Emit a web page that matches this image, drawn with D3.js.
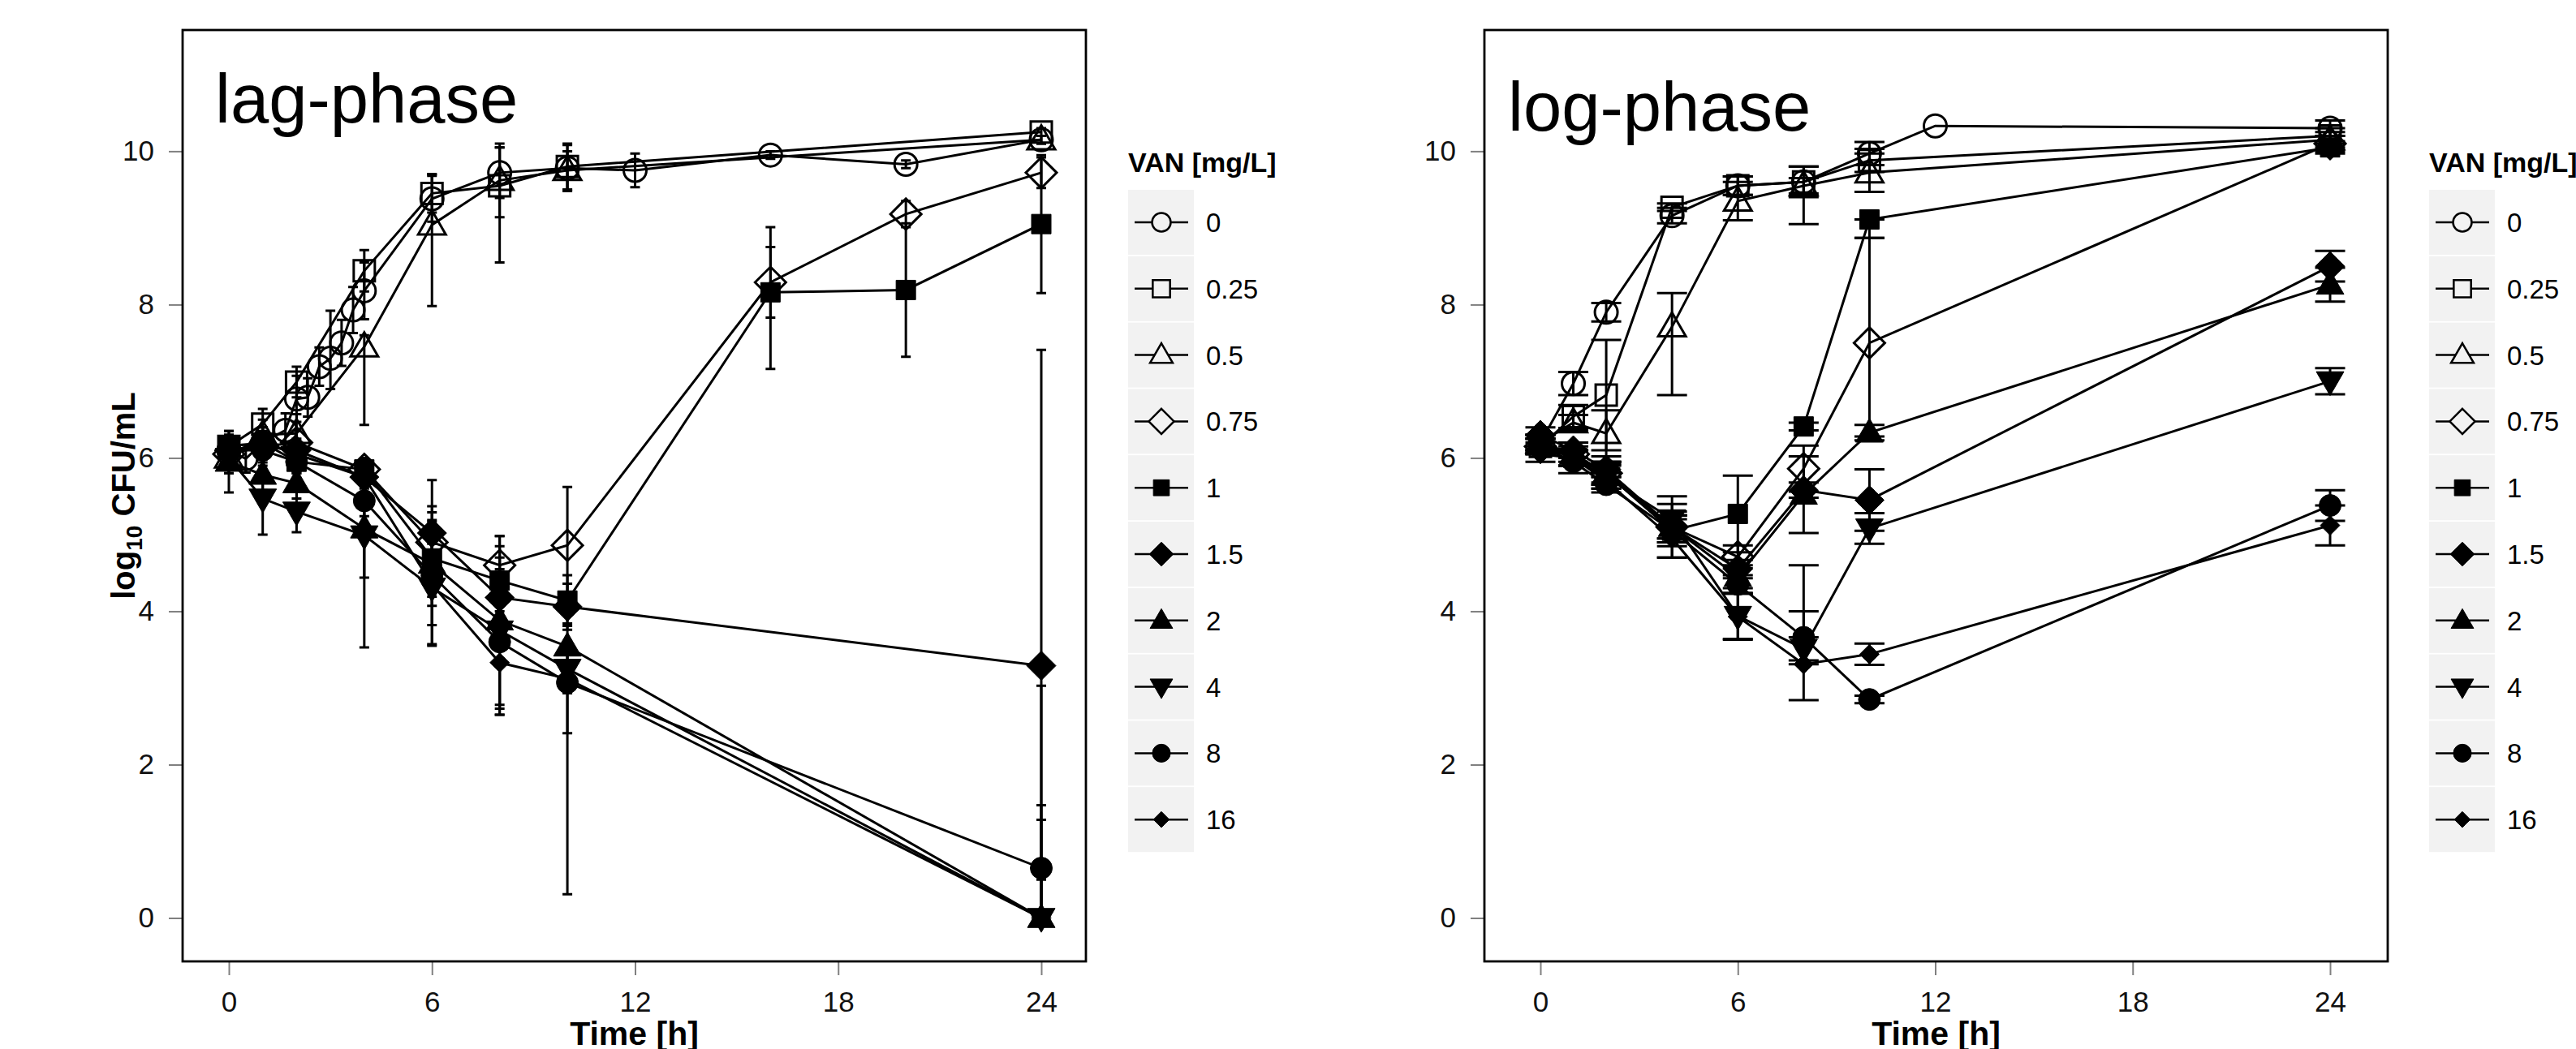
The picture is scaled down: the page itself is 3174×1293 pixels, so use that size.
<!DOCTYPE html>
<html>
<head>
<meta charset="utf-8">
<title>VAN time-kill curves</title>
<script src="https://cdn.jsdelivr.net/npm/d3@7"></script>
<style>
body { margin: 0; background: #fff; }
svg { display: block; font-family: "Liberation Sans", Arial, Helvetica, sans-serif; }
</style>
</head>
<body>
<div id="chart"></div>
<script>
// VAN concentrations [mg/L], legend order
var concentrations = ["0", "0.25", "0.5", "0.75", "1", "1.5", "2", "4", "8", "16"];

var xTicks = [0, 6, 12, 18, 24];
var yTicks = [0, 2, 4, 6, 8, 10];

// one list per concentration: [time h, mean log10 CFU/mL, sd below, sd above (if different)]
var lagSeries = [
	[[0, 6.1, 0.15], [0.5, 5.99, 0.18], [1, 6.2, 0.2], [1.67, 6.36, 0.22], [2, 6.77, 0.3], [2.33, 6.79, 0.25], [2.67, 7.19, 0.25], [3, 7.30, 0.4, 0.62], [3.33, 7.50, 0.3], [3.67, 7.93, 0.3], [4, 8.18, 0.37], [6, 9.38, 0.3], [8, 9.72, 0.33], [10, 9.78, 0.3], [12, 9.75, 0.22], [16, 9.95, 0.05], [20, 9.83, 0.05], [24, 10.15, 0.05]],
	[[0, 6.15, 0.15], [1, 6.44, 0.2], [2, 6.99, 0.2], [4, 8.44, 0.27], [6, 9.45, 0.25], [8, 9.55, 1.0, 0.5], [10, 9.80, 0.3], [24, 10.25, 0.05]],
	[[0, 6.0, 0.2], [1, 6.3, 0.2], [2, 6.32, 0.25], [4, 7.45, 1.02, 0.15], [6, 9.04, 1.06, 0.66], [8, 9.62, 0.48], [10, 9.75, 0.25], [24, 10.15, 0.05]],
	[[0, 6.05, 0.15], [1, 6.15, 0.15], [2, 6.2, 0.15], [4, 5.85, 0.12], [6, 4.90, 0.39], [8, 4.60, 0.38], [10, 4.86, 0.76], [16, 8.29, 0.46], [20, 9.18, 0.17], [24, 9.72, 0.2]],
	[[0, 6.15, 0.2], [1, 6.2, 0.2], [2, 5.95, 0.15], [4, 5.85, 0.15], [6, 4.69, 0.5], [8, 4.40, 0.3], [10, 4.14, 0.33], [16, 8.16, 1.0, 0.85], [20, 8.19, 0.87], [24, 9.05, 0.9]],
	[[0, 6.1, 0.15], [1, 6.15, 0.15], [2, 6.1, 0.15], [4, 5.75, 0.15], [6, 5.02, 0.69], [8, 4.18, 0.18], [10, 4.06, 0.3], [24, 3.29, 4.12]],
	[[0, 5.95, 0.4], [1, 5.78, 0.2], [2, 5.67, 0.2], [4, 5.08, 1.55, 0.3], [6, 4.62, 0.55], [8, 3.88, 1.1], [10, 3.54, 0.3], [24, 0, 1.47]],
	[[0, 6.0, 0.2], [1, 5.47, 0.47], [2, 5.30, 0.27], [4, 4.99, 0.55], [6, 4.31, 0.76], [8, 3.75, 1.1], [10, 3.25, 0.84, 0.3], [24, 0, 1.28]],
	[[0, 6.1, 0.2], [1, 6.1, 0.2], [2, 5.95, 0.15], [4, 5.44, 0.2], [6, 4.47, 0.9], [8, 3.60, 0.95], [10, 3.07, 2.76, 0.4], [24, 0.65, 2.38]],
	[[0, 6.05, 0.15], [1, 6.2, 0.15], [2, 6.05, 0.15], [4, 5.75, 0.2], [6, 4.35, 0.53], [8, 3.33, 0.6], [10, 3.12, 0.19], [24, 0, 0.5]]
];

var logSeries = [
	[[0, 6.2, 0.1], [1, 6.97, 0.15], [2, 7.9, 0.12], [4, 9.16, 0.1], [6, 9.55, 0.12], [8, 9.6, 0.2], [10, 9.97, 0.15], [12, 10.33, 0], [24, 10.30, 0.1]],
	[[0, 6.15, 0.1], [1, 6.54, 0.15], [2, 6.82, 0.72], [4, 9.27, 0.05], [6, 9.55, 0.12], [8, 9.6, 0.55, 0.2], [10, 9.88, 0.15], [24, 10.2, 0.1]],
	[[0, 6.2, 0.1], [1, 6.46, 0.1], [2, 6.32, 0.3], [4, 7.71, 0.89, 0.44], [6, 9.35, 0.25], [8, 9.55, 0.1], [10, 9.72, 0.25], [24, 10.15, 0.1]],
	[[0, 6.15, 0.1], [1, 6.05, 0.15], [2, 5.8, 0.15], [4, 5.1, 0.2], [6, 4.71, 0.15], [8, 5.86, 0.3], [10, 7.5, 1.22, 1.37], [24, 10.1, 0.1]],
	[[0, 6.2, 0.1], [1, 6.0, 0.1], [2, 5.8, 0.12], [4, 5.05, 0.2], [6, 5.27, 0.5], [8, 6.41, 0.05], [10, 9.11, 0.24, 0], [24, 10.05, 0.08]],
	[[0, 6.3, 0.1], [1, 6.1, 0.1], [2, 5.85, 0.1], [4, 5.1, 0.15], [6, 4.55, 0.12], [8, 5.58, 0.1], [10, 5.45, 0.4], [24, 8.5, 0.2]],
	[[0, 6.2, 0.1], [1, 6.05, 0.1], [2, 5.8, 0.15], [4, 5.1, 0.15], [6, 4.45, 0.15], [8, 5.52, 0.5], [10, 6.33, 0.1], [24, 8.26, 0.22]],
	[[0, 6.15, 0.1], [1, 6.0, 0.1], [2, 5.75, 0.15], [4, 5.2, 0.3], [6, 3.94, 0.3], [8, 3.51, 0.15], [10, 5.08, 0.2], [24, 7.0, 0.17]],
	[[0, 6.15, 0.1], [1, 5.95, 0.15], [2, 5.65, 0.1], [4, 5.05, 0.35], [6, 4.35, 0.12], [8, 3.66, 0.35, 0.94], [10, 2.85, 0.05], [24, 5.38, 0.2]],
	[[0, 6.05, 0.1], [1, 6.0, 0.1], [2, 5.7, 0.1], [4, 4.95, 0.25], [6, 3.93, 0.3], [8, 3.31, 0.47, 0.69], [10, 3.44, 0.14], [24, 5.12, 0.26]]
];

// marker look per concentration (R pch 1, 0, 2, 5, 15, 18, 17, 25, 16, 18 small)
var symbols = [
	{ shape: "circle", size: 14, fill: false },
	{ shape: "square", size: 13, fill: false },
	{ shape: "triangle", size: 17, fill: false },
	{ shape: "diamond", size: 19, fill: false },
	{ shape: "square", size: 12, fill: true },
	{ shape: "diamond", size: 18, fill: true },
	{ shape: "triangle", size: 17, fill: true },
	{ shape: "triangleDown", size: 17, fill: true },
	{ shape: "circle", size: 13.5, fill: true },
	{ shape: "diamond", size: 12, fill: true }
];

function symbol_path(shape, s) {
	var p = d3.path();
	var h = s * Math.sqrt(3);
	if (shape === "circle") {
		p.arc(0, 0, s, 0, 2 * Math.PI);
	} else if (shape === "square") {
		p.rect(-s, -s, 2 * s, 2 * s);
	} else if (shape === "triangle") {
		p.moveTo(0, -h * 0.6); p.lineTo(s, h * 0.4); p.lineTo(-s, h * 0.4);
	} else if (shape === "triangleDown") {
		p.moveTo(0, h * 0.6); p.lineTo(s, -h * 0.4); p.lineTo(-s, -h * 0.4);
	} else {
		p.moveTo(0, -s); p.lineTo(s, 0); p.lineTo(0, s); p.lineTo(-s, 0);
	}
	p.closePath();
	return p.toString();
}

function kill_panel (svg, cfg, series) {
	this.cfg = cfg;
	this.series = series;
	this.x = d3.scaleLinear().domain([0, 24]).range([cfg.xAt0, cfg.xAt24]);
	this.y = d3.scaleLinear().domain([0, 10]).range([cfg.yAt0, cfg.yAt10]);
	this.g = svg.append("g").attr("class", "panel-" + cfg.id);
}

kill_panel.prototype = {
	draw : function() {
		this.draw_axes();
		this.draw_series();
		this.draw_frame();
		this.draw_legend();
	},
	draw_axes : function() {
		var cfg = this.cfg;
		var xAxis = this.g.append("g")
			.attr("transform", "translate(0," + cfg.y1 + ")")
			.call(d3.axisBottom(this.x).tickValues(xTicks).tickSize(17).tickPadding(20));
		var yAxis = this.g.append("g")
			.attr("transform", "translate(" + cfg.x0 + ",0)")
			.call(d3.axisLeft(this.y).tickValues(yTicks).tickSize(17).tickPadding(18));
		[xAxis, yAxis].forEach(function(ax) {
			ax.select(".domain").remove();
			ax.selectAll(".tick line").attr("stroke", "#808080").attr("stroke-width", 2);
			ax.selectAll(".tick text")
				.attr("fill", "#111")
				.style("font-size", "35px")
				.style("font-family", "'Liberation Sans', Arial, sans-serif");
		});

		this.g.append("text")
			.attr("x", (cfg.x0 + cfg.x1) / 2)
			.attr("y", 1288)
			.attr("text-anchor", "middle")
			.style("font-size", "41px")
			.style("font-weight", "bold")
			.text("Time [h]");

		if (cfg.yTitle) {
			var t = this.g.append("text")
				.attr("transform", "translate(166," + (cfg.y0 + cfg.y1) / 2 + ") rotate(-90)")
				.attr("text-anchor", "middle")
				.style("font-size", "40px")
				.style("font-weight", "bold");
			t.append("tspan").text("log");
			t.append("tspan").attr("dy", 9).style("font-size", "28px").text("10");
			t.append("tspan").attr("dy", -9).text(" CFU/mL");
		}

		this.g.append("text")
			.attr("x", cfg.titleX)
			.attr("y", cfg.titleY)
			.style("font-size", "85px")
			.text(cfg.title);
	},
	draw_series : function() {
		var self = this;
		var cfg = self.cfg;
		var plot = self.g.append("g").attr("clip-path", "url(#clip-" + cfg.id + ")");
		self.g.append("clipPath").attr("id", "clip-" + cfg.id)
			.append("rect")
			.attr("x", cfg.x0).attr("y", cfg.y0)
			.attr("width", cfg.x1 - cfg.x0).attr("height", cfg.y1 - cfg.y0);

		// error bars
		self.series.forEach(function(pts) {
			var bars = plot.append("g").selectAll("path")
				.data(pts.filter(function(d) { return d[2] > 0 || d[3] > 0; }))
				.enter();
			bars.append("path")
				.attr("d", function(d) {
					var lo = self.y(Math.max(0, d[1] - d[2]));
					var hi = self.y(d[1] + (d.length > 3 ? d[3] : d[2]));
					var x = self.x(d[0]);
					var w = cfg.capW / 2;
					return "M" + (x - w) + "," + lo + "H" + (x + w) + "M" + x + "," + lo + "V" + hi + "M" + (x - w) + "," + hi + "H" + (x + w);
				})
				.attr("fill", "none")
				.attr("stroke", "#000")
				.attr("stroke-width", 3);
		});

		// lines
		var line = d3.line()
			.x(function(d) { return self.x(d[0]); })
			.y(function(d) { return self.y(d[1]); });
		self.series.forEach(function(pts) {
			plot.append("path")
				.attr("d", line(pts))
				.attr("fill", "none")
				.attr("stroke", "#000")
				.attr("stroke-width", 3);
		});

		// points
		self.series.forEach(function(pts, i) {
			var sym = symbols[i];
			plot.append("g").selectAll("path")
				.data(pts)
				.enter()
				.append("path")
				.attr("transform", function(d) {
					return "translate(" + self.x(d[0]) + "," + self.y(d[1]) + ")";
				})
				.attr("d", symbol_path(sym.shape, sym.size))
				.attr("fill", sym.fill ? "#000" : "none")
				.attr("stroke", "#000")
				.attr("stroke-width", sym.fill ? 1 : 3);
		});
	},
	draw_frame : function() {
		var cfg = this.cfg;
		this.g.append("rect")
			.attr("x", cfg.x0).attr("y", cfg.y0)
			.attr("width", cfg.x1 - cfg.x0).attr("height", cfg.y1 - cfg.y0)
			.attr("fill", "none")
			.attr("stroke", "#000")
			.attr("stroke-width", 2.8);
	},
	draw_legend : function() {
		var cfg = this.cfg;
		var lx = cfg.legendX;
		var leg = this.g.append("g").attr("class", "legend");
		leg.append("text")
			.attr("x", lx)
			.attr("y", 212)
			.style("font-size", "34px")
			.style("font-weight", "bold")
			.text("VAN [mg/L]");

		var rows = leg.selectAll("g.key")
			.data(concentrations)
			.enter()
			.append("g")
			.attr("class", "key")
			.attr("transform", function(d, i) {
				return "translate(" + lx + "," + (274 + i * 81.8) + ")";
			});
		rows.append("rect")
			.attr("x", 0).attr("y", -40)
			.attr("width", 81).attr("height", 80)
			.attr("fill", "#f2f2f2");
		rows.append("line")
			.attr("x1", 8).attr("x2", 74)
			.attr("stroke", "#000")
			.attr("stroke-width", 2.5);
		rows.append("path")
			.attr("transform", "translate(41,0)")
			.attr("d", function(d, i) {
				return symbol_path(symbols[i].shape, symbols[i].size * 0.82);
			})
			.attr("fill", function(d, i) { return symbols[i].fill ? "#000" : "#f2f2f2"; })
			.attr("stroke", "#000")
			.attr("stroke-width", function(d, i) { return symbols[i].fill ? 1 : 2.5; });
		rows.append("text")
			.attr("x", 96)
			.attr("y", 12)
			.style("font-size", "33px")
			.text(function(d) { return d; });
	}
};

var svg = d3.select("#chart")
	.append("svg")
	.attr("width", 3174)
	.attr("height", 1293);

var lag = new kill_panel(svg, {
	id: "lag", title: "lag-phase", titleX: 265, titleY: 151, yTitle: true,
	x0: 225, x1: 1338, y0: 37, y1: 1185,
	xAt0: 282, xAt24: 1283, yAt0: 1131.5, yAt10: 186.4,
	capW: 12, legendX: 1390
}, lagSeries);
lag.draw();

var log = new kill_panel(svg, {
	id: "log", title: "log-phase", titleX: 1858, titleY: 161, yTitle: false,
	x0: 1829, x1: 2942, y0: 37, y1: 1185,
	xAt0: 1898, xAt24: 2871, yAt0: 1131.5, yAt10: 186.4,
	capW: 37, legendX: 2993
}, logSeries);
log.draw();
</script>
</body>
</html>
